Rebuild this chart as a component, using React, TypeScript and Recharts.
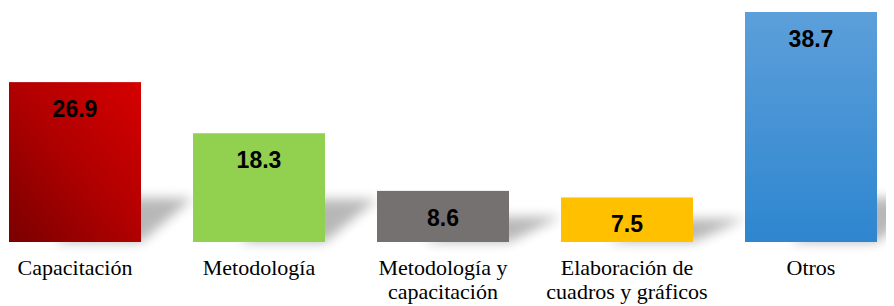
import React from "react";
import { BarChart, Bar, XAxis, YAxis, LabelList, Cell } from "recharts";

const categories = ["Capacitación", "Metodología", "Metodología y capacitación", "Elaboración de cuadros y gráficos", "Otros"];
const tickLines = [["Capacitación"], ["Metodología"], ["Metodología y", "capacitación"], ["Elaboración de", "cuadros y gráficos"], ["Otros"]];
const values = [26.9, 18.3, 8.6, 7.5, 38.7];
const fills = ["url(#gRed)", "#92d050", "#767171", "#ffc000", "url(#gBlue)"];

const data = categories.map((c, i) => ({ name: c, value: values[i], idx: i }));

const ShadowBar = (props: any) => {
  const { x, y, width, height, fill } = props;
  const b = y + height;
  const dx = 52;
  const dy = Math.min(44, height * 0.3 + 10);
  const pts = `${x + width * 0.35},${b} ${x + width},${b} ${x + width + dx},${b - dy} ${x + width * 0.35 + dx},${b - dy}`;
  return (
    <g>
      <polygon points={pts} fill="#000" opacity={0.28} filter="url(#blurSh)" />
      <rect x={x} y={y} width={width} height={height} fill={fill} />
    </g>
  );
};

const ValueLabel = (props: any) => {
  const { x, y, width, value } = props;
  return (
    <text x={x + width / 2} y={y + 35} textAnchor="middle" fontFamily="'Liberation Sans', Arial, sans-serif" fontWeight="bold" fontSize={23} fill="#000">
      {String(value)}
    </text>
  );
};

const Tick = (props: any) => {
  const { x, y, payload } = props;
  const lines = tickLines[payload.index] || [payload.value];
  return (
    <text x={x} y={y} textAnchor="middle" fontFamily="'Liberation Serif', 'Times New Roman', serif" fontSize={22} fill="#000">
      {lines.map((l: string, i: number) => (
        <tspan key={i} x={x} dy={i === 0 ? 33 : 24}>{l}</tspan>
      ))}
    </text>
  );
};

export default function App() {
  return (
    <BarChart width={886} height={298} data={data} margin={{ top: 4, right: -9, bottom: 0, left: -25 }} barCategoryGap={26}>
      <defs>
        <linearGradient id="gRed" x1="1" y1="0" x2="0" y2="1">
          <stop offset="0" stopColor="#d60000" />
          <stop offset="0.5" stopColor="#b00000" />
          <stop offset="1" stopColor="#7a0000" />
        </linearGradient>
        <linearGradient id="gBlue" x1="0" y1="0" x2="0" y2="1">
          <stop offset="0" stopColor="#5c9fda" />
          <stop offset="1" stopColor="#2e86cf" />
        </linearGradient>
        <filter id="blurSh" x="-50%" y="-50%" width="200%" height="200%">
          <feGaussianBlur stdDeviation="6" />
        </filter>
      </defs>
      <XAxis dataKey="name" axisLine={false} tickLine={false} tickSize={0} tickMargin={0} height={64} interval={0} tick={<Tick />} />
      <YAxis hide domain={[0, 38.7]} />
      <Bar dataKey="value" isAnimationActive={false} shape={<ShadowBar />}>
        {data.map((d, i) => (
          <Cell key={i} fill={fills[i]} />
        ))}
        <LabelList dataKey="value" content={<ValueLabel />} />
      </Bar>
    </BarChart>
  );
}
